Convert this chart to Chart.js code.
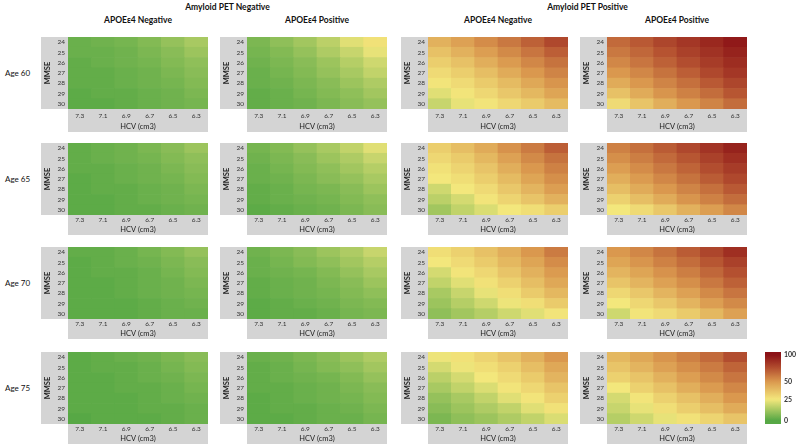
<!DOCTYPE html>
<html>
<head>
<meta charset="utf-8">
<script src="https://cdn.jsdelivr.net/npm/chart.js@4.4.1/dist/chart.umd.min.js"></script>
<style>
  body { margin:0; background:#fff; font-family: Lato, 'Noto Sans', sans-serif; }
  #wrap { position:relative; width:797px; height:446px; overflow:hidden; }
  #wrap canvas { position:absolute; }
  .lbl { position:absolute; white-space:nowrap; color:#111; transform:translate(-50%,-50%); }
  .grp { font-weight:700; font-size:8.5px; }
  .sub { font-weight:700; font-size:8.5px; }
  .age { font-size:8px; }
</style>
</head>
<body>
<div id="wrap"></div>
<script>
'use strict';

const HCV = ['7.3', '7.1', '6.9', '6.7', '6.5', '6.3'];
const MMSE = ['24', '25', '26', '27', '28', '29', '30'];
const AGES = ['Age 60', 'Age 65', 'Age 70', 'Age 75'];
const GROUP_TITLES = ['Amyloid PET Negative', 'Amyloid PET Positive'];
const PANEL_TITLES = ['APOE\u03b54 Negative', 'APOE\u03b54 Positive', 'APOE\u03b54 Negative', 'APOE\u03b54 Positive'];
const CB_TICKS = [0, 25, 50, 100];

// % per cell, rows = MMSE 24 -> 30, cols = HCV 7.3 -> 6.3
const negNeg60 = [[3,4,5,7,10,13],[3,3,4,6,8,11],[2,3,4,5,7,9],[2,2,3,4,6,8],[2,2,3,4,5,7],[1,2,2,3,4,6],[1,1,2,3,4,5]];
const negNeg65 = [[2,3,4,6,8,11],[2,3,4,5,7,9],[2,2,3,4,6,8],[1,2,3,4,5,7],[1,2,2,3,4,6],[1,1,2,3,4,5],[1,1,2,2,3,4]];
const negNeg70 = [[2,2,3,5,7,10],[1,2,3,4,6,8],[1,2,2,3,5,7],[1,1,2,3,4,6],[1,1,2,3,4,5],[1,1,1,2,3,4],[1,1,1,2,3,3]];
const negNeg75 = [[1,2,3,4,6,8],[1,2,2,3,5,7],[1,1,2,3,4,6],[1,1,2,2,3,5],[1,1,1,2,3,4],[1,1,1,2,2,3],[0,1,1,1,2,3]];

const negPos60 = [[6,9,12,16,22,27],[5,7,10,14,18,23],[4,6,8,11,15,19],[3,5,7,10,13,17],[3,4,6,8,11,14],[2,3,5,7,9,12],[2,3,4,6,8,10]];
const negPos65 = [[5,7,10,13,17,22],[4,6,8,11,14,18],[3,5,7,9,12,15],[3,4,6,8,10,13],[2,3,5,6,8,11],[2,3,4,5,7,9],[1,2,3,4,6,8]];
const negPos70 = [[4,6,8,11,14,18],[3,5,7,9,12,15],[3,4,5,7,10,13],[2,3,4,6,8,11],[2,3,4,5,7,9],[1,2,3,4,6,7],[1,2,2,3,5,6]];
const negPos75 = [[3,4,6,8,11,14],[2,3,5,7,9,12],[2,3,4,5,7,10],[2,2,3,4,6,8],[1,2,3,4,5,7],[1,2,2,3,4,6],[1,1,2,3,3,5]];

const posNeg60 = [[42,47,54,61,69,78],[37,42,48,55,62,70],[33,37,43,49,56,63],[29,33,38,44,50,57],[26,29,34,39,45,51],[22,26,30,35,40,46],[18,23,26,30,34,39]];
const posNeg65 = [[33,38,44,52,60,70],[30,34,40,47,55,63],[27,31,36,43,50,58],[25,28,33,39,46,53],[19,25,29,35,41,48],[16,20,26,31,36,42],[12,17,21,25,28,33]];
const posNeg70 = [[28,32,37,43,50,60],[25,29,34,40,46,54],[20,26,30,36,42,49],[17,22,27,32,38,45],[13,18,23,28,34,40],[11,15,19,24,28,34],[9,12,15,19,22,26]];
const posNeg75 = [[24,27,31,36,42,50],[20,24,28,32,38,45],[16,20,25,29,34,41],[13,17,21,26,30,36],[10,13,17,22,26,32],[8,11,14,17,22,27],[6,9,11,14,17,21]];

const posPos60 = [[66,72,79,85,91,97],[61,67,74,81,87,93],[56,62,69,76,83,89],[50,56,63,70,78,85],[44,50,57,64,72,79],[37,44,51,58,65,73],[29,36,43,50,57,65]];
const posPos65 = [[58,64,71,78,86,93],[53,59,66,73,81,88],[48,54,61,68,76,83],[43,49,56,63,71,78],[38,44,50,57,64,72],[32,38,44,51,58,65],[25,29,35,42,48,56]];
const posPos70 = [[50,56,63,71,79,88],[46,51,58,65,73,81],[41,46,52,59,67,75],[36,41,47,53,61,69],[30,35,41,47,55,62],[25,30,35,41,48,55],[19,26,29,34,40,47]];
const posPos75 = [[40,45,51,58,66,76],[36,41,47,53,60,68],[32,36,42,48,55,62],[25,32,37,43,49,56],[20,26,32,37,43,50],[18,23,28,33,38,44],[15,19,23,27,31,36]];

const PANELS = [
  [negNeg60, negPos60, posNeg60, posPos60],
  [negNeg65, negPos65, posNeg65, posPos65],
  [negNeg70, negPos70, posNeg70, posPos70],
  [negNeg75, negPos75, posNeg75, posPos75]
];

// colour scale: green -> yellow -> orange -> dark red
const STOP_VALUES = [0, 25, 50, 75, 100];
const STOP_RGB = [[87,168,69], [243,231,124], [218,152,78], [180,80,48], [139,17,22]];

function colorFor(v) {
  v = Math.max(0, Math.min(100, v));
  let i = 0;
  while (i < STOP_VALUES.length - 2 && v > STOP_VALUES[i + 1]) i++;
  const t = (v - STOP_VALUES[i]) / (STOP_VALUES[i + 1] - STOP_VALUES[i]);
  const a = STOP_RGB[i], b = STOP_RGB[i + 1];
  const c = a.map((x, k) => Math.round(x + (b[k] - x) * t));
  return `rgb(${c[0]},${c[1]},${c[2]})`;
}

// layout
const FONT = "Lato, 'Noto Sans', sans-serif";
const COL_X = [68, 247, 428, 607];
const ROW_Y = [37, 143, 247, 352];
const CELL_W = 140, CELL_H = 72, AXIS_W = 27;
const BAND_H = [23, 20, 20, 20];
const TICK_PAD = [3, 1, 1, 1];
const GREY = '#d4d4d4';

const wrap = document.getElementById('wrap');

const greyBands = {
  id: 'greyBands',
  beforeDraw(chart) {
    const { ctx, chartArea: a, scales: { x, y } } = chart;
    ctx.save();
    ctx.fillStyle = GREY;
    ctx.fillRect(y.left, a.top, y.width, a.bottom - a.top);
    ctx.fillRect(a.left, x.top, a.right - a.left, x.height);
    ctx.restore();
  }
};

function addLabel(text, cls, x, y) {
  const d = document.createElement('div');
  d.className = 'lbl ' + cls;
  d.textContent = text;
  d.style.left = x + 'px';
  d.style.top = y + 'px';
  wrap.appendChild(d);
}

function addCanvas(left, top, w, h) {
  const c = document.createElement('canvas');
  c.width = w; c.height = h;
  c.style.left = left + 'px';
  c.style.top = top + 'px';
  c.style.width = w + 'px';
  c.style.height = h + 'px';
  wrap.appendChild(c);
  return c;
}

function makeHeatmap(values, col, row) {
  const bandH = BAND_H[row];
  const cv = addCanvas(COL_X[col] - AXIS_W, ROW_Y[row], AXIS_W + CELL_W, CELL_H + bandH);
  const datasets = MMSE.map((m, r) => ({
    label: 'MMSE ' + m,
    data: HCV.map(() => 1),
    backgroundColor: values[r].map(colorFor),
    borderWidth: 0,
    categoryPercentage: 1,
    barPercentage: 1
  })).reverse();

  new Chart(cv, {
    type: 'bar',
    data: { labels: HCV, datasets: datasets },
    options: {
      responsive: false, animation: false,
      layout: { padding: 0 },
      plugins: { legend: { display: false }, tooltip: { enabled: false } },
      scales: {
        x: {
          stacked: true, offset: true,
          grid: { display: false, drawTicks: false }, border: { display: false },
          ticks: { padding: TICK_PAD[row], font: { size: 6.5, family: FONT }, color: '#333', maxRotation: 0, autoSkip: false },
          title: { display: true, text: 'HCV (cm3)', font: { size: 7.5, family: FONT }, color: '#222', padding: { top: 0, bottom: 1 } },
          afterFit: function (s) { s.height = bandH; s.paddingLeft = 0; s.paddingRight = 0; }
        },
        y: {
          stacked: true, min: 0, max: MMSE.length,
          grid: { display: false, drawTicks: false }, border: { display: false },
          afterBuildTicks: function (s) { s.ticks = MMSE.map((m, i) => ({ value: MMSE.length - 0.5 - i })); },
          ticks: {
            padding: 3, font: { size: 6.5, family: FONT }, color: '#333',
            callback: function (v) { return MMSE[MMSE.length - 1 - Math.floor(v)]; }
          },
          title: { display: true, text: 'MMSE', font: { size: 7.5, weight: 'bold', family: FONT }, color: '#222', padding: { top: 2, bottom: 0 } },
          afterFit: function (s) { s.width = AXIS_W; s.paddingTop = 0; s.paddingBottom = 0; }
        }
      }
    },
    plugins: [greyBands]
  });
}

// colour bar: tick positions as fraction of bar height
const CB_POS = [0.05, 0.34, 0.59, 0.96];

function cbValueAt(p) {
  if (p <= CB_POS[0]) return CB_TICKS[0];
  for (let i = 0; i < CB_POS.length - 1; i++) {
    if (p <= CB_POS[i + 1]) {
      const t = (p - CB_POS[i]) / (CB_POS[i + 1] - CB_POS[i]);
      return CB_TICKS[i] + t * (CB_TICKS[i + 1] - CB_TICKS[i]);
    }
  }
  return CB_TICKS[CB_TICKS.length - 1];
}

function makeColorBar() {
  const cv = addCanvas(765, ROW_Y[3] - 6, 16 + 30, CELL_H + 12);
  new Chart(cv, {
    type: 'bar',
    data: {
      labels: [''],
      datasets: [{
        data: [1], borderWidth: 0, categoryPercentage: 1, barPercentage: 1,
        backgroundColor: function (c) {
          const a = c.chart.chartArea;
          if (!a) return GREY;
          const g = c.chart.ctx.createLinearGradient(0, a.bottom, 0, a.top);
          for (let i = 0; i <= 40; i++) g.addColorStop(i / 40, colorFor(cbValueAt(i / 40)));
          return g;
        }
      }]
    },
    options: {
      responsive: false, animation: false,
      layout: { padding: { top: 6, bottom: 6 } },
      plugins: { legend: { display: false }, tooltip: { enabled: false } },
      scales: {
        x: { display: false },
        y: {
          position: 'right', min: 0, max: 1,
          grid: { display: false, drawTicks: false }, border: { display: false },
          afterBuildTicks: function (s) { s.ticks = CB_POS.map(v => ({ value: v })); },
          ticks: { padding: 3, font: { size: 7, weight: 'bold', family: FONT }, color: '#333', callback: function (v, i) { return CB_TICKS[i]; } },
          afterFit: function (s) { s.width = 30; s.paddingTop = 0; s.paddingBottom = 0; }
        }
      }
    }
  });
}

// titles
const centers = COL_X.map(x => x + CELL_W / 2);
addLabel(GROUP_TITLES[0], 'grp', (centers[0] + centers[1]) / 2, 7);
addLabel(GROUP_TITLES[1], 'grp', (centers[2] + centers[3]) / 2, 7);
PANEL_TITLES.forEach((t, i) => addLabel(t, 'sub', centers[i], 19.5));
AGES.forEach((t, r) => addLabel(t, 'age', 17.5, ROW_Y[r] + CELL_H / 2));

PANELS.forEach((rowPanels, r) => rowPanels.forEach((vals, c) => makeHeatmap(vals, c, r)));
makeColorBar();
</script>
</body>
</html>
